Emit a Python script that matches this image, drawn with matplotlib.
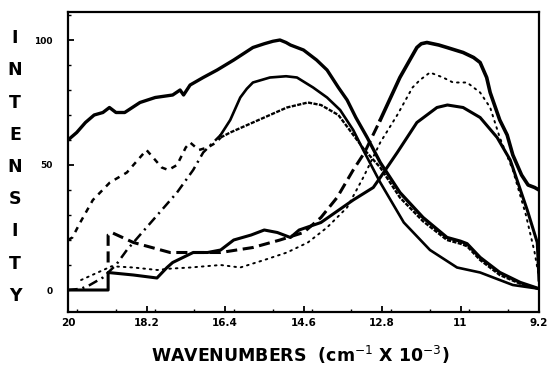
import matplotlib
matplotlib.use("Agg")
import matplotlib.pyplot as plt
from matplotlib.ticker import MultipleLocator, FixedLocator

plt.rcParams['lines.scale_dashes'] = False
plt.rcParams['font.family'] = ['DejaVu Sans']

# ---- data (wavenumber x 10^-3, intensity) ----
# curve 1: thick solid, broad peak ~15.1
c1_x = [20.0, 19.8, 19.6, 19.4, 19.2, 19.05, 18.9, 18.7, 18.35, 18.0, 17.6, 17.43, 17.35, 17.2,
        16.9, 16.58, 16.2, 15.76, 15.5, 15.3, 15.14, 15.0, 14.9, 14.6, 14.3, 14.06, 13.8, 13.6,
        13.4, 13.14, 12.84, 12.39, 11.86, 11.31, 11.0, 10.85, 10.55, 10.1, 9.63, 9.2]
c1_y = [60, 63, 67, 70, 71, 73, 71, 71, 75, 77, 78, 80, 78, 82,
        85, 88, 92, 97, 98.5, 99.5, 100, 99, 98, 96, 92, 88, 81, 76,
        69, 61, 51, 39, 29, 21, 19.5, 18.5, 13, 7, 3, 0.5]

# curve 2: dash-dot rise then solid, peak ~15
c2a_x = [20.0, 19.7, 19.5, 19.2, 18.9, 18.65, 18.35, 18.05, 17.75, 17.5, 17.13, 16.9, 16.5]
c2a_y = [0, 0.5, 2, 5, 10, 16, 22, 28, 34, 39, 48, 55, 62]
c2b_x = [16.5, 16.28, 16.05, 15.9, 15.76, 15.37, 15.0, 14.75, 14.38, 14.06, 13.76, 13.46, 13.23,
         12.84, 12.3, 11.7, 11.08, 10.55, 9.8, 9.2]
c2b_y = [62, 68, 77, 80.5, 83, 85, 85.5, 85, 81, 77, 72, 64, 56,
         43, 27, 16, 9, 7, 2, 0.5]

# curve 3: short dashes then fine dashes, peak ~14.4
c3a_x = [20.0, 19.9, 19.72, 19.43, 19.04, 18.65, 18.35, 18.2, 18.0, 17.85, 17.7, 17.5, 17.3,
         17.2, 17.0, 16.8, 16.6, 16.5]
c3a_y = [20, 21, 27, 36, 43, 47, 53, 56, 52, 49, 48, 50, 57,
         59, 56, 57, 59, 61]
c3b_x = [16.5, 16.28, 15.76, 14.98, 14.5, 14.2, 13.9, 13.8, 13.5, 13.2, 12.84, 12.39, 11.86,
         11.31, 11.0, 10.85, 10.55, 10.1, 9.63, 9.2]
c3b_y = [61, 63, 67, 73, 75, 74, 71, 70, 63, 56, 49, 37, 27.5,
         20, 18.5, 17.5, 12, 6, 2.5, 0.5]

# curve 4: long dashes rising, then thick solid, peak ~11.8
c4a_x = [19.08, 19.08, 19.0, 18.5, 17.66, 16.5, 15.76, 15.14, 14.6, 14.2, 13.83, 13.46, 13.2,
         12.84]
c4a_y = [11, 22, 23, 19, 15, 15, 17, 20, 23, 29, 37, 48, 55, 68]
c4b_x = [12.84, 12.39, 12.0, 11.9, 11.77, 11.5, 11.31, 10.94, 10.7, 10.55, 10.4, 10.32, 10.1,
         9.93, 9.8, 9.6, 9.45, 9.3, 9.2]
c4b_y = [68, 85, 97, 98.5, 99, 98, 97, 95, 93, 91, 85, 79, 68,
         62, 54, 46, 42, 41, 40]

# curve 5: dotted, peak ~11.7
c5_x = [19.7, 19.0, 18.5, 17.95, 17.7, 17.2, 16.5, 16.05, 15.5, 14.98, 14.5, 14.06, 13.6,
        13.23, 12.84, 12.45, 12.1, 11.93, 11.7, 11.4, 11.17, 10.85, 10.55, 10.32, 10.1, 9.8,
        9.5, 9.3, 9.2]
c5_y = [4, 9.5, 9, 8, 8.5, 9, 10, 9, 12, 15, 19, 25, 33,
        45, 59, 70, 81, 84, 87, 85, 83, 83, 79, 73, 61, 48,
        30, 15, 5]

# curve 6: step at start then thick solid, peak ~11.1
c6_x = [20.0, 19.08, 19.08, 18.5, 17.96, 17.73, 17.6, 17.13, 16.8, 16.5, 16.2, 15.8, 15.5,
        15.2, 14.9, 14.7, 14.2, 13.46, 13.0, 12.84, 12.45, 12.0, 11.54, 11.3, 10.94, 10.55,
        10.16, 9.86, 9.47, 9.24, 9.2]
c6_y = [0, 0, 7, 6, 4.8, 9, 11, 15, 15, 16, 20, 22, 24,
        23, 21, 24, 27, 36, 41, 45, 55, 67, 73, 74, 73, 69,
        61, 52, 32, 19, 4]

x_ticks = [20, 18.2, 16.4, 14.6, 12.8, 11, 9.2]
x_ticklabels = ['20', '18.2', '16.4', '14.6', '12.8', '11', '9.2']
y_ticks = [0, 50, 100]
y_ticklabels = ['0', '50', '100']
ylabel_letters = list("INTENSITY")

# ---- figure ----
fig = plt.figure(figsize=(5.48, 3.73), dpi=100)
ax = fig.add_axes([68/548, 1-312/373, (539-68)/548, (312-12)/373])

k = 'black'
ax.plot(c1_x, c1_y, color=k, lw=2.4, solid_joinstyle='round')
ax.plot(c2a_x, c2a_y, color=k, lw=1.8, dashes=(7, 3.5, 1.5, 3.5))
ax.plot(c2b_x, c2b_y, color=k, lw=1.9, solid_joinstyle='round')
ax.plot(c3a_x, c3a_y, color=k, lw=1.8, dashes=(4, 4))
ax.plot(c3b_x, c3b_y, color=k, lw=1.7, dashes=(3, 1))
ax.plot(c4a_x, c4a_y, color=k, lw=2.2, dashes=(8, 4))
ax.plot(c4b_x, c4b_y, color=k, lw=2.6, solid_joinstyle='round')
ax.plot(c5_x, c5_y, color=k, lw=1.4, dashes=(1.2, 3.5), dash_capstyle='round')
ax.plot(c6_x, c6_y, color=k, lw=2.2, solid_joinstyle='round')

ax.set_xlim(20.0, 9.2)
ax.set_ylim(-8.8, 111.2)

ax.xaxis.set_major_locator(FixedLocator(x_ticks))
ax.set_xticklabels(x_ticklabels, fontsize=7.5, fontweight='bold')
ax.xaxis.set_minor_locator(MultipleLocator(0.9))
ax.yaxis.set_major_locator(FixedLocator(y_ticks))
ax.set_yticklabels(y_ticklabels, fontsize=6.5, fontweight='bold')
ax.yaxis.set_minor_locator(MultipleLocator(10))

ax.tick_params(which='both', direction='in', top=False, right=False)
ax.tick_params(which='major', length=4, width=1.3)
ax.tick_params(which='minor', length=2, width=1.0)
ax.tick_params(axis='x', pad=4)
ax.tick_params(axis='y', pad=11)

for s in ax.spines.values():
    s.set_linewidth(1.6)

fig.text(300/548, 1-355/373, r'WAVENUMBERS  (cm$^{-1}$ X 10$^{-3}$)', ha='center', va='center',
         fontsize=12.5, fontweight='bold')

n = len(ylabel_letters)
for i, ch in enumerate(ylabel_letters):
    ypx = 38 + i * (296 - 38) / (n - 1)
    fig.text(15/548, 1-ypx/373, ch, ha='center', va='center', fontsize=12.5, fontweight='bold')

fig.savefig('out.png', dpi=100)
